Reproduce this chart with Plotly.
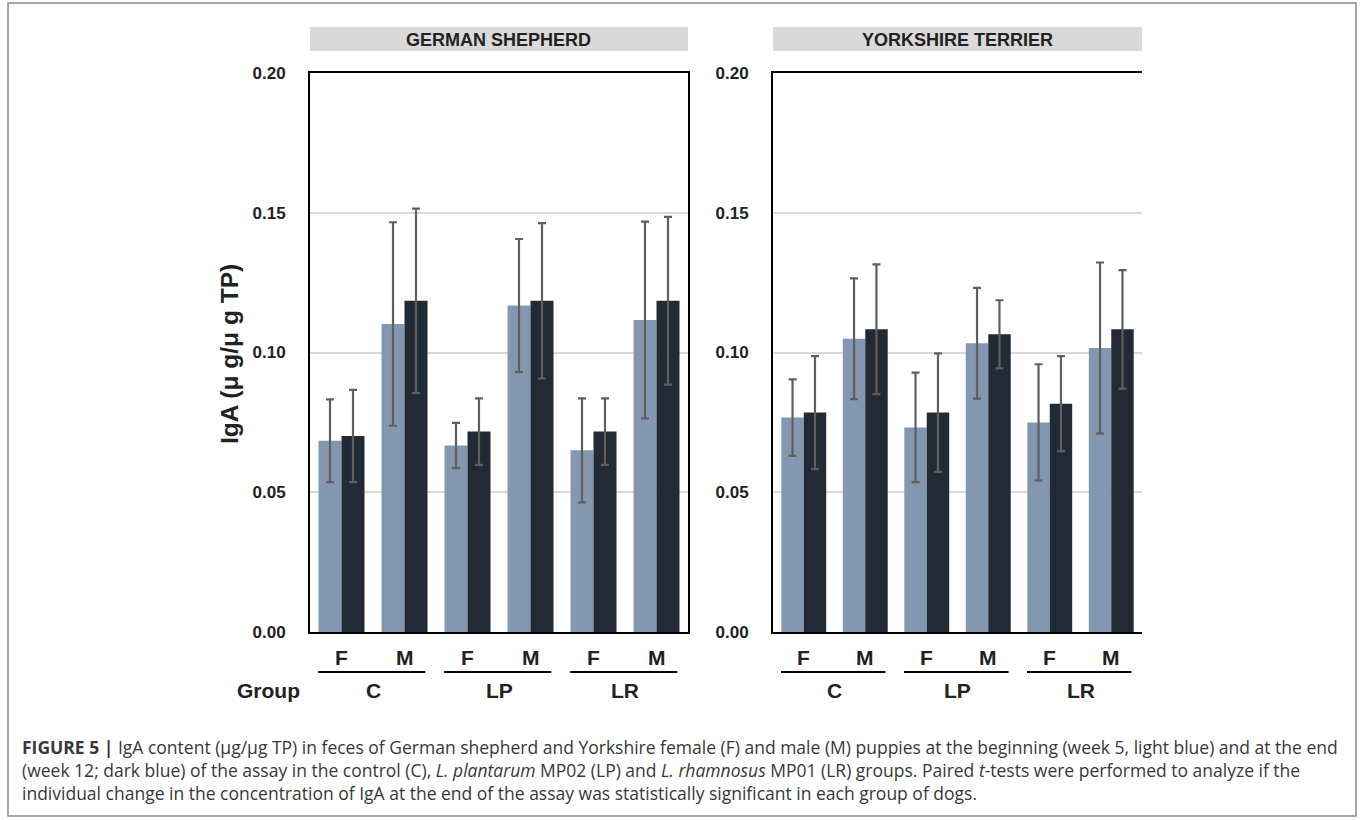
import plotly.graph_objects as go

W, H = 1360, 820

# ---- data -------------------------------------------------------------
groups = ["C", "LP", "LR"]
sexes = ["F", "M"]
categories = [f"{g}-{s}" for g in groups for s in sexes]

# German shepherd: week 5 (start) and week 12 (end), mean and SD
gs_week5 = [0.0684, 0.1102, 0.0667, 0.1168, 0.0650, 0.1116]
gs_week5_sd = [0.0148, 0.0364, 0.0081, 0.0238, 0.0186, 0.0352]
gs_week12 = [0.0701, 0.1185, 0.0717, 0.1185, 0.0717, 0.1185]
gs_week12_sd = [0.0165, 0.0330, 0.0119, 0.0278, 0.0119, 0.0300]

# Yorkshire terrier
yt_week5 = [0.0767, 0.1049, 0.0732, 0.1033, 0.0750, 0.1016]
yt_week5_sd = [0.0137, 0.0216, 0.0196, 0.0198, 0.0208, 0.0306]
yt_week12 = [0.0785, 0.1083, 0.0785, 0.1065, 0.0817, 0.1083]
yt_week12_sd = [0.0202, 0.0232, 0.0212, 0.0122, 0.0170, 0.0212]

y_ticks = [0.00, 0.05, 0.10, 0.15, 0.20]
panel_titles = ["GERMAN SHEPHERD", "YORKSHIRE TERRIER"]

# ---- style ------------------------------------------------------------
LIGHT = "#8497b0"
DARK = "#222a35"
ERR = "#5f5f5f"
GRID = "#d9d9d9"
FONT = "Liberation Sans, Arial, sans-serif"
CAP_FONT = "Open Sans, Liberation Sans, sans-serif"


def px_x(v):
    return v / W


def px_y(v):
    return 1 - v / H


panels = [
    dict(x0=310, x1=688, week5=gs_week5, sd5=gs_week5_sd, week12=gs_week12, sd12=gs_week12_sd),
    dict(x0=773, x1=1142, week5=yt_week5, sd5=yt_week5_sd, week12=yt_week12, sd12=yt_week12_sd),
]
PLOT_TOP, PLOT_BOTTOM = 73, 632

fig = go.Figure()
annotations = []
shapes = []

for i, p in enumerate(panels):
    n = "" if i == 0 else str(i + 1)
    xa, ya = "x" + n, "y" + n
    for vals, sd, col, name in [
        (p["week5"], p["sd5"], LIGHT, "Week 5"),
        (p["week12"], p["sd12"], DARK, "Week 12"),
    ]:
        fig.add_trace(go.Bar(
            x=categories, y=vals, name=name, marker=dict(color=col, line=dict(width=0)),
            error_y=dict(type="data", array=sd, visible=True, color=ERR, thickness=2.2, width=4),
            xaxis=xa, yaxis=ya, showlegend=False,
        ))

    axis_x = dict(
        domain=[px_x(p["x0"]), px_x(p["x1"])], range=[-0.5, 5.5], type="category",
        showticklabels=False, ticks="", showgrid=False, zeroline=False, automargin=False,
        showline=True, linecolor="black", linewidth=2, mirror=True, anchor=ya,
        categoryorder="array", categoryarray=categories,
    )
    axis_y = dict(
        domain=[px_y(PLOT_BOTTOM), px_y(PLOT_TOP)], range=[0, 0.2], automargin=False,
        tickvals=y_ticks, ticktext=[f"<b>{t:.2f}</b>" for t in y_ticks],
        tickfont=dict(family=FONT, size=17, color="#222"), ticks="", ticklabelstandoff=19,
        showgrid=True, gridcolor=GRID, gridwidth=1.6, zeroline=False,
        showline=True, linecolor="black", linewidth=2, mirror=(i == 0), anchor=xa,
    )
    fig.update_layout(**{"xaxis" + n: axis_x, "yaxis" + n: axis_y})

    # panel header band
    shapes.append(dict(type="rect", xref="paper", yref="paper",
                       x0=px_x(p["x0"]), x1=px_x(p["x1"]), y0=px_y(51), y1=px_y(27),
                       fillcolor="#d9d9d9", line=dict(width=0), layer="below"))
    annotations.append(dict(text=f"<b>{panel_titles[i]}</b>", xref="paper", yref="paper",
                            x=px_x((p["x0"] + p["x1"]) / 2), y=px_y(40), showarrow=False,
                            xanchor="center", yanchor="middle",
                            font=dict(family=FONT, size=18, color="#222")))

    # F / M labels under each category
    for k, cat in enumerate(categories):
        annotations.append(dict(text=f"<b>{cat.split('-')[1]}</b>", xref=xa, yref="paper",
                                x=k, y=px_y(657), showarrow=False, xanchor="center",
                                yanchor="middle", font=dict(family=FONT, size=21, color="#222")))
    # group underline and group name
    for g_i, g in enumerate(groups):
        c0, c1 = 2 * g_i, 2 * g_i + 1
        shapes.append(dict(type="line", xref=xa, yref="paper", x0=c0 - 0.37, x1=c1 + 0.33,
                           y0=px_y(672), y1=px_y(672), line=dict(color="black", width=2.2)))
        annotations.append(dict(text=f"<b>{g}</b>", xref=xa, yref="paper", x=(c0 + c1) / 2,
                                y=px_y(690), showarrow=False, xanchor="center", yanchor="middle",
                                font=dict(family=FONT, size=21, color="#222")))

annotations.append(dict(text="<b>Group</b>", xref="paper", yref="paper", x=px_x(268), y=px_y(690),
                        showarrow=False, xanchor="center", yanchor="middle",
                        font=dict(family=FONT, size=21, color="#222")))
annotations.append(dict(text="<b>IgA (μ g/μ g TP)</b>", xref="paper", yref="paper",
                        x=px_x(230), y=px_y(354), showarrow=False, textangle=-90,
                        xanchor="center", yanchor="middle",
                        font=dict(family=FONT, size=24.5, color="#222")))

# caption, one text block with line breaks
caption = [
    "<b>FIGURE 5 |</b> IgA content (μg/μg TP) in feces of German shepherd and Yorkshire female (F) "
    "and male (M) puppies at the beginning (week 5, light blue) and at the end",
    "(week 12; dark blue) of the assay in the control (C), <i>L. plantarum</i> MP02 (LP) and "
    "<i>L. rhamnosus</i> MP01 (LR) groups. Paired <i>t</i>-tests were performed to analyze if the",
    "individual change in the concentration of IgA at the end of the assay was statistically "
    "significant in each group of dogs.",
]
annotations.append(dict(text="<br>".join(caption), xref="paper", yref="paper", x=px_x(20),
                        y=px_y(769.5), showarrow=False, xanchor="left", yanchor="middle", align="left",
                        font=dict(family=CAP_FONT, size=17.5, color="#383838")))

# outer frame
shapes.append(dict(type="rect", xref="paper", yref="paper", x0=px_x(8), x1=px_x(1356),
                   y0=px_y(816), y1=px_y(3), line=dict(color="#8a8a8a", width=1.5)))

fig.update_layout(
    width=W, height=H, margin=dict(l=0, r=0, t=0, b=0, autoexpand=False),
    paper_bgcolor="white", plot_bgcolor="white",
    barmode="group", bargap=0.27, bargroupgap=0,
    annotations=annotations, shapes=shapes,
    font=dict(family=FONT),
)

fig.write_html("out.html")
